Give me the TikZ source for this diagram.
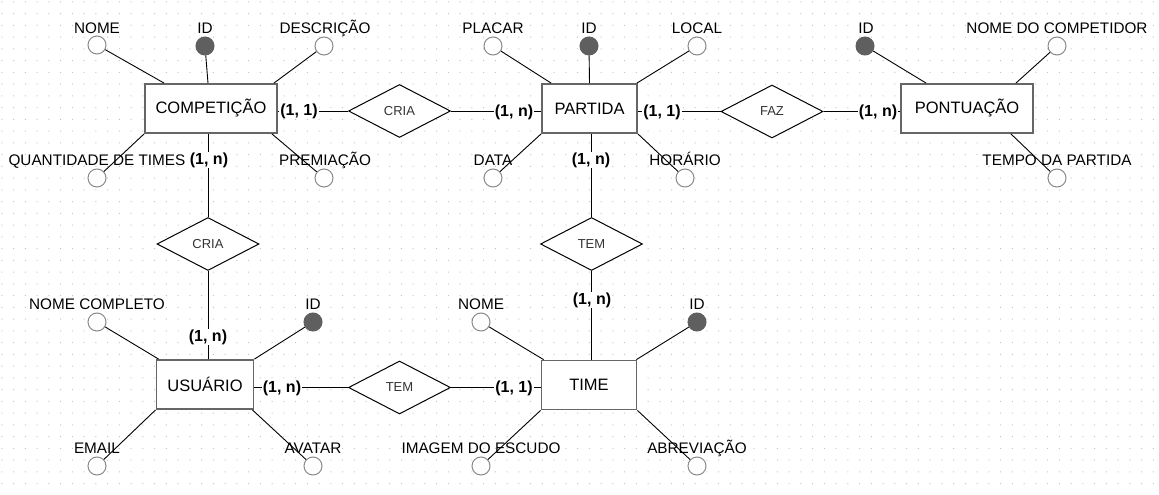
\documentclass[tikz,border=0pt]{standalone}
\usepackage{fontspec}
\setmainfont{Liberation Sans}
\usetikzlibrary{shapes.geometric}
\definecolor{entb}{HTML}{666666}
\definecolor{attrb}{HTML}{8A8A8A}
\definecolor{keyc}{HTML}{5F5F5F}
\definecolor{dotc}{HTML}{C4C4C4}
\definecolor{reltxt}{HTML}{333333}
\begin{document}
\begin{tikzpicture}[x=1pt,y=-1pt,
  ent/.style={rectangle, draw=entb, line width=1.8pt, fill=white, inner sep=0pt, font=\fontsize{16.5}{18}\selectfont},
  attr/.style={circle, draw=attrb, line width=1pt, fill=white, minimum size=18pt, inner sep=0pt},
  keyattr/.style={circle, draw=keyc, fill=keyc, line width=1pt, minimum size=18pt, inner sep=0pt},
  rel/.style={diamond, draw=black, line width=1pt, fill=white, minimum width=102pt, minimum height=53pt, inner sep=0pt, text=reltxt, font=\fontsize{13}{15}\selectfont},
  lbl/.style={anchor=base, inner sep=0pt, font=\fontsize{15.3}{17}\selectfont},
  card/.style={fill=white, inner sep=1pt, font=\bfseries\fontsize{16}{18}\selectfont},
  conn/.style={draw=black, line width=0.9pt},
]
\useasboundingbox (0,0) rectangle (1159,495);
\fill[white] (0,0) rectangle (1159,495);
\fill[dotc] \foreach \i in {0,...,98} { \foreach \j in {0,...,41} { (1.3+\i*11.75,1.3+\j*11.75) rectangle ++(1.1,1.1) } };

% entities
\node[ent, minimum width=132pt, minimum height=49pt] (comp) at (211,108.5) {COMPETIÇÃO};
\node[ent, minimum width=95pt, minimum height=49pt] (part) at (589.5,108.5) {PARTIDA};
\node[ent, minimum width=132pt, minimum height=49pt] (pont) at (967,108.5) {PONTUAÇÃO};
\node[ent, minimum width=97pt, minimum height=49pt] (usu) at (205,384.5) {USUÁRIO};
\node[ent, minimum width=95pt, minimum height=49pt] (time) at (589,385) {TIME};

% relationships
\node[rel] (cria1) at (399.5,111) {CRIA};
\node[rel] (faz) at (772,111.5) {FAZ};
\node[rel] (tem1) at (591.5,244) {TEM};
\node[rel] (cria2) at (208,244) {CRIA};
\node[rel] (tem2) at (399.5,387.5) {TEM};

% attributes: COMPETIÇÃO
\node[attr] (cnome) at (97,45) {};
\node[keyattr] (cid) at (205,46) {};
\node[attr] (cdesc) at (324,46) {};
\node[attr] (cqtd) at (97,178) {};
\node[attr] (cprem) at (324,178) {};
\node[lbl] (lcnome) at (97,33.5) {NOME};
\node[lbl] (lcid) at (205,33.5) {ID};
\node[lbl] (lcdesc) at (325,33.5) {DESCRIÇÃO};
\node[lbl] (lcqtd) at (97,165.5) {QUANTIDADE DE TIMES};
\node[lbl] (lcprem) at (325,165.5) {PREMIAÇÃO};

% attributes: PARTIDA
\node[attr] (pplac) at (493,46) {};
\node[keyattr] (pid) at (589,46) {};
\node[attr] (ploc) at (697,46) {};
\node[attr] (pdata) at (493,178) {};
\node[attr] (phor) at (685,178) {};
\node[lbl] (lpplac) at (493,33.5) {PLACAR};
\node[lbl] (lpid) at (589,33.5) {ID};
\node[lbl] (lploc) at (697,33.5) {LOCAL};
\node[lbl] (lpdata) at (493,165.5) {DATA};
\node[lbl] (lphor) at (685,165.5) {HORÁRIO};

% attributes: PONTUAÇÃO
\node[keyattr] (oid) at (865,46) {};
\node[attr] (onome) at (1057,46) {};
\node[attr] (otempo) at (1057,178) {};
\node[lbl] (loid) at (866,33.5) {ID};
\node[lbl] (lonome) at (1057,33.5) {NOME DO COMPETIDOR};
\node[lbl] (lotempo) at (1057,165.5) {TEMPO DA PARTIDA};

% attributes: USUÁRIO
\node[attr] (unome) at (97,322) {};
\node[keyattr] (uid) at (313,322) {};
\node[attr] (uemail) at (97,466) {};
\node[attr] (uavat) at (313,466) {};
\node[lbl] (lunome) at (97,309.5) {NOME COMPLETO};
\node[lbl] (luid) at (313,309.5) {ID};
\node[lbl] (luemail) at (97,453.5) {EMAIL};
\node[lbl] (luavat) at (313,453.5) {AVATAR};

% attributes: TIME
\node[attr] (tnome) at (481,322) {};
\node[keyattr] (tid) at (697,322) {};
\node[attr] (tesc) at (481,466) {};
\node[attr] (tabr) at (697,466) {};
\node[lbl] (ltnome) at (481,309.5) {NOME};
\node[lbl] (ltid) at (697,309.5) {ID};
\node[lbl] (ltesc) at (481,453.5) {IMAGEM DO ESCUDO};
\node[lbl] (ltabr) at (697,453.5) {ABREVIAÇÃO};

% attribute connectors
\draw[conn] (cnome) -- ([xshift=20pt]comp.north west);
\draw[conn] (cid) -- ([xshift=-3pt]comp.north);
\draw[conn] (cdesc) -- ([xshift=-4pt]comp.north east);
\draw[conn] (cqtd) -- (comp.south west);
\draw[conn] (cprem) -- ([xshift=-6pt]comp.south east);

\draw[conn] (pplac) -- ([xshift=10pt]part.north west);
\draw[conn] (pid) -- (part.north);
\draw[conn] (ploc) -- ([xshift=-1pt]part.north east);
\draw[conn] (pdata) -- (part.south west);
\draw[conn] (phor) -- (part.south east);

\draw[conn] (oid) -- ([xshift=26pt]pont.north west);
\draw[conn] (onome) -- ([xshift=-18pt]pont.north east);
\draw[conn] (otempo) -- ([xshift=-23pt]pont.south east);

\draw[conn] (unome) -- ([xshift=3pt]usu.north west);
\draw[conn] (uid) -- (usu.north east);
\draw[conn] (uemail) -- (usu.south west);
\draw[conn] (uavat) -- ([xshift=-2pt]usu.south east);

\draw[conn] (tnome) -- ([xshift=3pt]time.north west);
\draw[conn] (tid) -- ([xshift=-1pt]time.north east);
\draw[conn] (tesc) -- (time.south west);
\draw[conn] (tabr) -- (time.south east);

% relationship connectors
\draw[conn] (cria1.west) -- (cria1.west -| comp.east);
\draw[conn] (cria1.east) -- (cria1.east -| part.west);
\draw[conn] (faz.west) -- (faz.west -| part.east);
\draw[conn] (faz.east) -- (faz.east -| pont.west);
\draw[conn] (cria2.north) -- (cria2.north |- comp.south);
\draw[conn] (cria2.south) -- (cria2.south |- usu.north);
\draw[conn] (tem1.north) -- (tem1.north |- part.south);
\draw[conn] (tem1.south) -- (tem1.south |- time.north);
\draw[conn] (tem2.west) -- (tem2.west -| usu.east);
\draw[conn] (tem2.east) -- (tem2.east -| time.west);

% cardinalities
\node[card] (k1) at (299,111) {(1, 1)};
\node[card] (k2) at (514,112) {(1, n)};
\node[card] (k3) at (662,112) {(1, 1)};
\node[card] (k4) at (878,112) {(1, n)};
\node[card] (k5) at (209,160) {(1, n)};
\node[card] (k6) at (208,337) {(1, n)};
\node[card] (k7) at (591,160) {(1, n)};
\node[card] (k8) at (592,300) {(1, n)};
\node[card] (k9) at (282,388) {(1, n)};
\node[card] (k10) at (514,388) {(1, 1)};
\end{tikzpicture}
\end{document}
